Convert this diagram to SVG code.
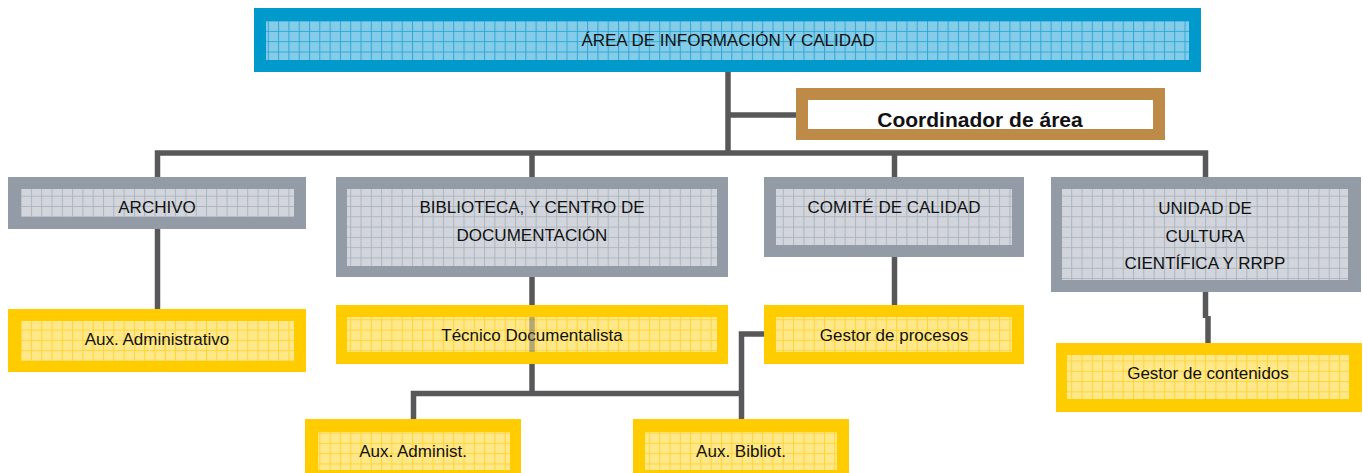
<svg xmlns="http://www.w3.org/2000/svg" width="1363" height="473" viewBox="0 0 1363 473">
<style>
.t{font-family:"Liberation Sans",Arial,sans-serif;font-size:17px;fill:#111;text-anchor:middle}
.tb{font-family:"Liberation Sans",Arial,sans-serif;font-size:21px;font-weight:bold;fill:#111;text-anchor:middle}
.bB{fill:#0099CC}.bG{fill:#939CA6}.bY{fill:#FFCC00}.bC{fill:#BE8A48}
.iB{fill:url(#pB)}.iG{fill:url(#pG)}.iY{fill:url(#pY)}.iW{fill:#fff}
.c{fill:none;stroke:#58585A;stroke-width:5.5;stroke-linejoin:miter;stroke-linecap:butt}
</style>
<defs>
<pattern id="pB" width="10.3" height="10.3" patternUnits="userSpaceOnUse">
<rect width="10.3" height="10.3" fill="#84CCE8"/>
<path d="M0 0.5H10.3M0.5 0V10.3" stroke="#2FA8D8" stroke-width="1"/>
</pattern>
<pattern id="pG" width="10.3" height="10.3" patternUnits="userSpaceOnUse">
<rect width="10.3" height="10.3" fill="#D2D6DC"/>
<path d="M0 0.5H10.3M0.5 0V10.3" stroke="#AEB5BE" stroke-width="1"/>
</pattern>
<pattern id="pY" width="10.3" height="10.3" patternUnits="userSpaceOnUse">
<rect width="10.3" height="10.3" fill="#FFE88A"/>
<path d="M0 0.5H10.3M0.5 0V10.3" stroke="#FFD433" stroke-width="1"/>
</pattern>
</defs>

<g id="area">
<rect class="bB" x="254" y="8" width="947" height="64"/>
<rect class="iB" x="266" y="21" width="923" height="39"/>
<text class="t" x="728" y="46">ÁREA DE INFORMACIÓN Y CALIDAD</text>
</g>
<g id="coordinador">
<rect class="bC" x="796" y="88" width="369" height="52"/>
<rect class="iW" x="808" y="100" width="345" height="29"/>
<text class="tb" x="980" y="127">Coordinador de área</text>
</g>
<g id="archivo">
<rect class="bG" x="8" y="177" width="298" height="52"/>
<rect class="iG" x="21" y="189" width="273" height="28"/>
<text class="t" x="157" y="213">ARCHIVO</text>
</g>
<g id="biblioteca">
<rect class="bG" x="336" y="177" width="392" height="100"/>
<rect class="iG" x="347" y="189" width="370" height="77"/>
<text class="t" x="532" y="213">BIBLIOTECA, Y CENTRO DE</text>
<text class="t" x="532" y="241">DOCUMENTACIÓN</text>
</g>
<g id="comite">
<rect class="bG" x="764" y="177" width="260" height="80"/>
<rect class="iG" x="776" y="189" width="236" height="56"/>
<text class="t" x="894" y="213">COMITÉ DE CALIDAD</text>
</g>
<g id="unidad">
<rect class="bG" x="1051" y="177" width="310" height="115"/>
<rect class="iG" x="1062" y="189" width="286" height="91"/>
<text class="t" x="1205" y="214">UNIDAD DE</text>
<text class="t" x="1205" y="242">CULTURA</text>
<text class="t" x="1205" y="269">CIENTÍFICA Y RRPP</text>
</g>
<g id="aux-administrativo">
<rect class="bY" x="8" y="309" width="298" height="63"/>
<rect class="iY" x="21" y="321" width="273" height="40"/>
<text class="t" x="157" y="345">Aux. Administrativo</text>
</g>
<g id="tecnico">
<rect class="bY" x="336" y="305" width="392" height="59"/>
<rect class="iY" x="347" y="317" width="370" height="35"/>
<text class="t" x="532" y="341">Técnico Documentalista</text>
</g>
<g id="gestor-procesos">
<rect class="bY" x="764" y="305" width="260" height="59"/>
<rect class="iY" x="776" y="317" width="236" height="35"/>
<text class="t" x="894" y="341">Gestor de procesos</text>
</g>
<g id="gestor-contenidos">
<rect class="bY" x="1056" y="343" width="306" height="69"/>
<rect class="iY" x="1067" y="355" width="282" height="44"/>
<text class="t" x="1208" y="379">Gestor de contenidos</text>
</g>
<g id="aux-administ">
<rect class="bY" x="305" y="419" width="216" height="62"/>
<rect class="iY" x="318" y="432" width="192" height="38"/>
<text class="t" x="413" y="457">Aux. Administ.</text>
</g>
<g id="aux-bibliot">
<rect class="bY" x="633" y="419" width="216" height="62"/>
<rect class="iY" x="645" y="432" width="192" height="38"/>
<text class="t" x="741" y="457">Aux. Bibliot.</text>
</g>

<g id="connectors">
<path class="c" d="M728 72V153"/>
<path class="c" d="M728 115H796"/>
<path class="c" d="M157.5 177V153H1205.5V177"/>
<path class="c" d="M532 153V177"/>
<path class="c" d="M894.5 153V177"/>
<path class="c" d="M157.5 229V309"/>
<path class="c" d="M532 277V305"/>
<path class="c" d="M532 364V393.5"/>
<path class="c" d="M532 317V352" style="stroke-opacity:0.45"/>
<path class="c" d="M413.5 419V393.5H741.5"/>
<path class="c" d="M764 334H741.5V419"/>
<path class="c" d="M894.5 257V305"/>
<path class="c" d="M1205.5 292V318"/>
<path class="c" d="M1208 316V343"/>
</g>
</svg>
